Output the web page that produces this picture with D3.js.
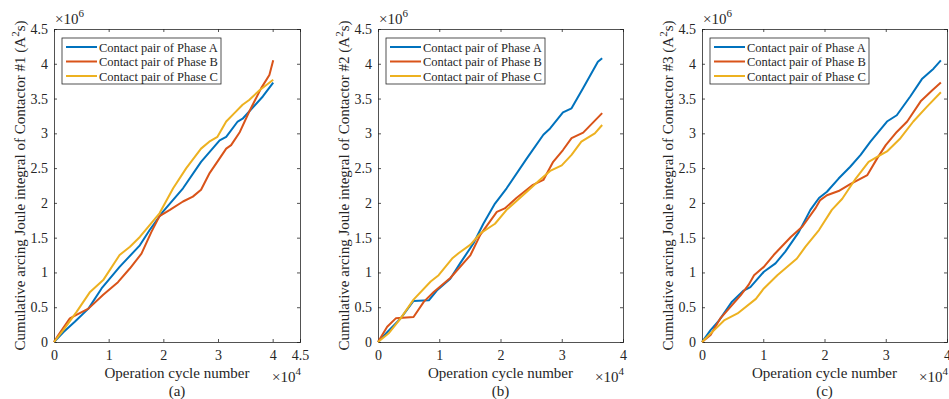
<!DOCTYPE html>
<html>
<head>
<meta charset="utf-8">
<script src="https://cdn.jsdelivr.net/npm/d3@7"></script>
<style>
  body { margin: 0; background: #fff; }
  svg text { font-family: "Times New Roman", Times, "Liberation Serif", "DejaVu Serif", serif; }
</style>
</head>
<body>
<div id="chart"></div>
<script>
// operation cycles (x1e4) and cumulative Joule integral (x1e6 A^2 s)
// Contactor #1
var c1AX = [0, 0.17, 0.38, 0.63, 0.87, 1.20, 1.57, 1.75, 1.99, 2.36, 2.69, 3.03, 3.15, 3.36, 3.45, 3.82, 4.01];
var c1AY = [0, 0.14, 0.29, 0.48, 0.77, 1.08, 1.39, 1.61, 1.87, 2.21, 2.59, 2.90, 2.95, 3.17, 3.21, 3.53, 3.73];
var c1BX = [0, 0.08, 0.29, 0.41, 0.63, 0.90, 1.17, 1.39, 1.60, 1.78, 1.93, 2.12, 2.36, 2.54, 2.69, 2.84, 3.03, 3.15, 3.24, 3.40, 3.57, 3.79, 3.94, 4.01];
var c1BY = [0, 0.10, 0.34, 0.39, 0.48, 0.68, 0.86, 1.06, 1.27, 1.58, 1.81, 1.90, 2.02, 2.09, 2.19, 2.42, 2.64, 2.78, 2.83, 3.02, 3.31, 3.65, 3.84, 4.05];
var c1CX = [0, 0.17, 0.41, 0.66, 0.90, 1.20, 1.39, 1.57, 1.75, 1.93, 2.18, 2.42, 2.69, 2.84, 2.99, 3.15, 3.30, 3.45, 3.57, 3.76, 4.01];
var c1CY = [0, 0.17, 0.43, 0.72, 0.89, 1.25, 1.37, 1.51, 1.68, 1.85, 2.21, 2.50, 2.78, 2.88, 2.95, 3.17, 3.29, 3.41, 3.48, 3.62, 3.77];
// Contactor #2
var c2AX = [0, 0.15, 0.37, 0.58, 0.83, 0.96, 1.18, 1.34, 1.56, 1.72, 1.91, 2.10, 2.43, 2.70, 2.81, 3.02, 3.16, 3.35, 3.59, 3.66];
var c2AY = [0, 0.14, 0.34, 0.59, 0.60, 0.74, 0.91, 1.13, 1.42, 1.70, 1.99, 2.21, 2.64, 2.98, 3.07, 3.30, 3.36, 3.65, 4.03, 4.08];
var c2BX = [0, 0.15, 0.29, 0.58, 0.75, 0.91, 1.18, 1.51, 1.67, 1.94, 2.07, 2.26, 2.53, 2.70, 2.86, 3.02, 3.16, 3.35, 3.66];
var c2BY = [0, 0.22, 0.34, 0.36, 0.58, 0.72, 0.92, 1.25, 1.54, 1.87, 1.92, 2.07, 2.26, 2.33, 2.59, 2.76, 2.93, 3.01, 3.29];
var c2CX = [0, 0.18, 0.37, 0.58, 0.86, 0.99, 1.21, 1.32, 1.51, 1.67, 1.91, 2.10, 2.43, 2.64, 2.81, 3.00, 3.16, 3.32, 3.54, 3.66];
var c2CY = [0, 0.13, 0.34, 0.61, 0.87, 0.96, 1.20, 1.28, 1.40, 1.56, 1.70, 1.90, 2.16, 2.33, 2.46, 2.54, 2.69, 2.88, 3.00, 3.12];
// Contactor #3
var c3AX = [0, 0.14, 0.28, 0.49, 0.68, 0.79, 1.01, 1.20, 1.36, 1.58, 1.77, 1.91, 2.04, 2.23, 2.42, 2.59, 2.75, 3.02, 3.18, 3.40, 3.59, 3.78, 3.90];
var c3AY = [0, 0.17, 0.31, 0.58, 0.74, 0.79, 1.01, 1.13, 1.30, 1.58, 1.90, 2.07, 2.16, 2.35, 2.52, 2.69, 2.88, 3.17, 3.26, 3.53, 3.78, 3.93, 4.05];
var c3BX = [0, 0.14, 0.30, 0.63, 0.76, 0.85, 1.01, 1.17, 1.45, 1.64, 1.85, 1.93, 2.04, 2.23, 2.42, 2.70, 2.86, 3.00, 3.18, 3.35, 3.57, 3.76, 3.90];
var c3BY = [0, 0.10, 0.34, 0.67, 0.82, 0.96, 1.08, 1.25, 1.51, 1.66, 1.92, 2.04, 2.11, 2.17, 2.27, 2.40, 2.64, 2.83, 3.02, 3.17, 3.46, 3.62, 3.73];
var c3CX = [0, 0.14, 0.36, 0.58, 0.88, 1.01, 1.23, 1.55, 1.69, 1.91, 2.12, 2.29, 2.51, 2.72, 2.86, 3.02, 3.24, 3.45, 3.67, 3.90];
var c3CY = [0, 0.12, 0.31, 0.41, 0.62, 0.77, 0.96, 1.20, 1.37, 1.61, 1.90, 2.06, 2.35, 2.59, 2.66, 2.74, 2.93, 3.17, 3.38, 3.59];

var phaseNames = ["Contact pair of Phase A", "Contact pair of Phase B", "Contact pair of Phase C"];
var phaseColors = ["#0072BD", "#D95319", "#EDB120"];
var yTicks = [0, 0.5, 1, 1.5, 2, 2.5, 3, 3.5, 4, 4.5];
var xTicksA = [0, 1, 2, 3, 4, 4.5];
var xTicksBC = [0, 1, 2, 3, 4];
var panelLabels = ["(a)", "(b)", "(c)"];

var panels = [
  { left: 54, right: 300, xMax: 4.5, xTicks: xTicksA, ylabX: 20, label: panelLabels[0], num: "1",
    series: [[c1AX, c1AY], [c1BX, c1BY], [c1CX, c1CY]] },
  { left: 378, right: 623, xMax: 4, xTicks: xTicksBC, ylabX: 344, label: panelLabels[1], num: "2",
    series: [[c2AX, c2AY], [c2BX, c2BY], [c2CX, c2CY]] },
  { left: 702, right: 947, xMax: 4, xTicks: xTicksBC, ylabX: 668, label: panelLabels[2], num: "3",
    series: [[c3AX, c3AY], [c3BX, c3BY], [c3CX, c3CY]] }
];

var plotTop = 29, plotBottom = 342;
var axisColor = "#262626";
var serif = '"Times New Roman", Times, "Liberation Serif", "DejaVu Serif", serif';

var svg = d3.select("#chart").append("svg")
    .attr("width", 949)
    .attr("height", 399)
    .attr("font-family", serif);

panels.forEach(function (p) {
  var x = d3.scaleLinear().domain([0, p.xMax]).range([p.left, p.right]);
  var y = d3.scaleLinear().domain([0, 4.5]).range([plotBottom, plotTop]);
  var tl = 3;

  var g = svg.append("g");

  // axes, MATLAB style: ticks inside, box on
  var fmt = function (d) { return d3.format("")(d); };
  g.append("g").attr("transform", "translate(0," + plotBottom + ")")
    .call(d3.axisBottom(x).tickValues(p.xTicks).tickSize(-tl).tickPadding(8).tickFormat(fmt));
  g.append("g").attr("transform", "translate(0," + plotTop + ")")
    .call(d3.axisTop(x).tickValues(p.xTicks).tickSize(-tl).tickFormat(""));
  g.append("g").attr("transform", "translate(" + p.left + ",0)")
    .call(d3.axisLeft(y).tickValues(yTicks).tickSize(-tl).tickPadding(6).tickFormat(fmt));
  g.append("g").attr("transform", "translate(" + p.right + ",0)")
    .call(d3.axisRight(y).tickValues(yTicks).tickSize(-tl).tickFormat(""));

  g.selectAll("g").attr("font-family", serif).attr("font-size", 14);
  g.selectAll(".domain").attr("stroke", axisColor).attr("stroke-width", 0.8);
  g.selectAll(".tick line").attr("stroke", axisColor).attr("stroke-width", 0.8);
  g.selectAll(".tick text").attr("fill", axisColor);

  // lines
  var line = d3.line()
    .x(function (d) { return x(d[0]); })
    .y(function (d) { return y(d[1]); });
  p.series.forEach(function (s, i) {
    var pts = s[0].map(function (v, k) { return [v, s[1][k]]; });
    g.append("path")
      .datum(pts)
      .attr("d", line)
      .attr("fill", "none")
      .attr("stroke", phaseColors[i])
      .attr("stroke-width", 2)
      .attr("stroke-linejoin", "round");
  });

  // exponent labels
  var e6 = g.append("text").attr("x", p.left + 1).attr("y", plotTop - 5)
    .attr("fill", axisColor).attr("font-size", 15);
  e6.append("tspan").text("\u00d710");
  e6.append("tspan").attr("dy", -7).attr("font-size", 11).text("6");

  var e4 = g.append("text").attr("x", p.right + 1).attr("y", 382)
    .attr("text-anchor", "end").attr("fill", axisColor).attr("font-size", 15);
  e4.append("tspan").text("\u00d710");
  e4.append("tspan").attr("dy", -7).attr("font-size", 11).text("4");

  // axis labels
  var cx = (p.left + p.right) / 2;
  g.append("text").attr("x", cx).attr("y", 378).attr("text-anchor", "middle")
    .attr("fill", axisColor).attr("font-size", 15).text("Operation cycle number");
  g.append("text").attr("x", cx).attr("y", 396).attr("text-anchor", "middle")
    .attr("fill", axisColor).attr("font-size", 15).text(p.label);

  var yl = g.append("text")
    .attr("transform", "translate(" + (p.ylabX + 5) + "," + ((plotTop + plotBottom) / 2) + ") rotate(-90)")
    .attr("text-anchor", "middle").attr("fill", axisColor).attr("font-size", 15);
  yl.append("tspan").text("Cumulative arcing Joule integral of Contactor #" + p.num + " (A");
  yl.append("tspan").attr("dy", -6).attr("font-size", 11).text("2");
  yl.append("tspan").attr("dy", 6).text("s)");

  // legend
  var lx = p.left + 8, ly = 38;
  var leg = g.append("g");
  leg.append("rect").attr("x", lx).attr("y", ly).attr("width", 159).attr("height", 46)
    .attr("fill", "#fff").attr("stroke", axisColor).attr("stroke-width", 0.8);
  phaseNames.forEach(function (name, i) {
    var yy = ly + 9 + i * 14.5;
    leg.append("line").attr("x1", lx + 4).attr("x2", lx + 35).attr("y1", yy).attr("y2", yy)
      .attr("stroke", phaseColors[i]).attr("stroke-width", 2);
    leg.append("text").attr("x", lx + 37).attr("y", yy + 4.5).attr("fill", axisColor)
      .attr("font-size", 12.5).text(name);
  });
});
</script>
</body>
</html>
